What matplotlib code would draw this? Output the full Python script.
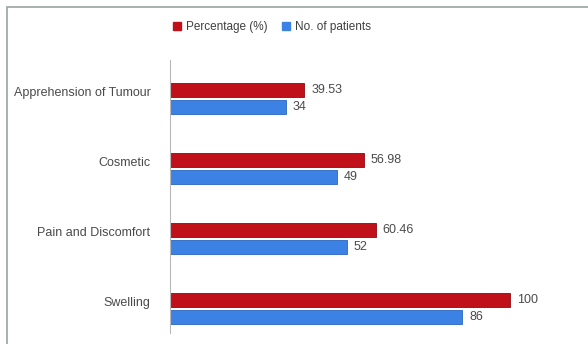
import matplotlib.pyplot as plt
import numpy as np
from matplotlib.patches import Rectangle, Patch

# data (bottom to top)
categories = ['Swelling', 'Pain and Discomfort', 'Cosmetic', 'Apprehension of Tumour']
percentage = [100, 60.46, 56.98, 39.53]
patients = [86, 52, 49, 34]
pct_labels = ['100', '60.46', '56.98', '39.53']

red = '#c0111b'
blue = '#3b82e4'

plt.rcParams['font.family'] = ['Liberation Sans', 'DejaVu Sans']

fig = plt.figure(figsize=(5.88, 3.44), dpi=100)
ax = fig.add_axes([170 / 588, 1 - 333 / 344, 408 / 588, 273 / 344])

y = np.arange(len(categories))
h = 0.2
off = 0.125

ax.barh(y + off, percentage, height=h, color=red, edgecolor='#8e0a10', linewidth=0.6)
ax.barh(y - off, patients, height=h, color=blue, edgecolor='#2a66c0', linewidth=0.6)

for yi, v, s in zip(y, percentage, pct_labels):
    ax.text(v + 2, yi + off, s, va='center', ha='left', fontsize=9, color='#4a4a4a')
for yi, v in zip(y, patients):
    ax.text(v + 2, yi - off, str(v), va='center', ha='left', fontsize=9, color='#4a4a4a')

ax.set_xlim(0, 120)
ax.set_ylim(-0.35, 3.55)
ax.set_yticks(y + 0.1)
ax.set_yticklabels(categories, fontsize=9, color='#4a4a4a')
ax.tick_params(axis='y', length=0, pad=14)
ax.set_xticks([])
for s in ['top', 'right', 'bottom']:
    ax.spines[s].set_visible(False)
ax.spines['left'].set_color('#b8b8b8')

handles = [Patch(color=red, label='Percentage (%)'), Patch(color=blue, label='No. of patients')]
fig.legend(handles=handles, loc='center', bbox_to_anchor=(272 / 588, 1 - 27 / 344), ncol=2,
           frameon=False, fontsize=8.5, handlelength=0.7, handleheight=0.7,
           handletextpad=0.4, columnspacing=1.2, labelcolor='#404040')

# outer chart border
fig.add_artist(Rectangle((7 / 588, -0.05), 1.1, 1 - 7 / 344 + 0.05, transform=fig.transFigure,
                         fill=False, edgecolor='#9aa3a3', linewidth=1.2))

fig.savefig('out.png', dpi=100)
